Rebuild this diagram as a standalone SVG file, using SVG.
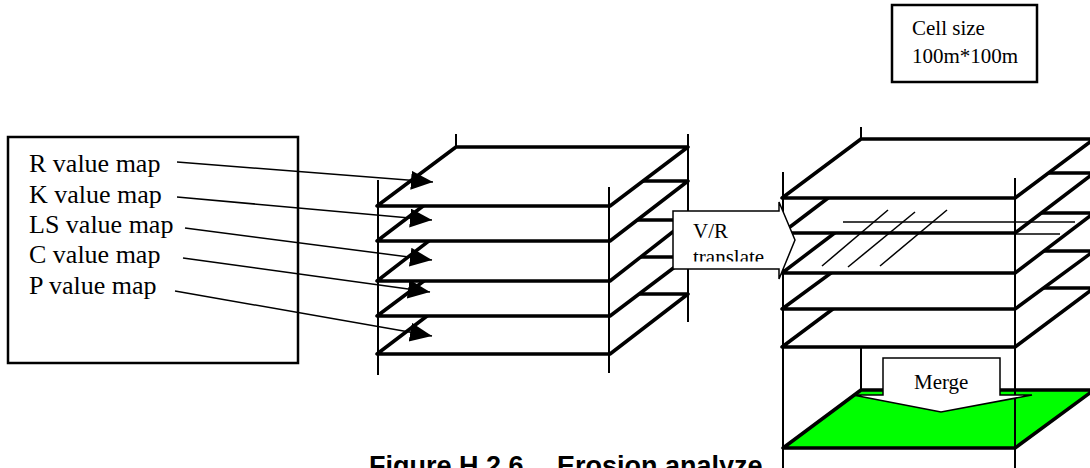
<svg xmlns="http://www.w3.org/2000/svg" width="1090" height="468" viewBox="0 0 1090 468">
<style>
.lab{font-family:"Liberation Serif","Times New Roman",serif;font-size:26px;fill:#000}
.sm{font-family:"Liberation Serif","Times New Roman",serif;font-size:21px;fill:#000}
.cap{font-family:"Liberation Sans",Arial,sans-serif;font-size:27px;font-weight:bold;fill:#000}
.layer{fill:#fff;stroke:#000;stroke-width:3.5;stroke-linejoin:round}
.green{fill:#00ff00;stroke:#000;stroke-width:3.5;stroke-linejoin:round}
.v{stroke:#000;stroke-width:2;fill:none}
.hatch{stroke:#000;stroke-width:1.5;fill:none}
.box{fill:#fff;stroke:#000;stroke-width:2.5}
.blk{fill:#fff;stroke:#000;stroke-width:1.5}
.conn{stroke:#000;stroke-width:1.5;fill:none;marker-end:url(#ah)}
</style>
<defs>
<marker id="ah" markerUnits="userSpaceOnUse" markerWidth="23" markerHeight="21" refX="22" refY="9.5" orient="auto">
<path d="M0,0 L22,9.5 L0,19 Z" fill="#000"/>
</marker>
<clipPath id="vrclip"><rect x="670" y="200" width="130" height="61.5"/></clipPath>
</defs>

<g id="cell-size">
<rect x="892" y="5" width="145" height="77" class="box" stroke-width="2"/>
<text class="sm" x="912" y="35">Cell size</text>
<text class="sm" x="912" y="63">100m*100m</text>
</g>

<g id="input-maps">
<rect x="8" y="137" width="290" height="226" class="box"/>
<text class="lab" x="29" y="172">R value map</text>
<text class="lab" x="29" y="203">K value map</text>
<text class="lab" x="29" y="233">LS value map</text>
<text class="lab" x="29" y="263">C value map</text>
<text class="lab" x="29" y="294">P value map</text>
</g>

<g id="left-stack">
<line class="v" x1="456" y1="134" x2="456" y2="300"/>
<line class="v" x1="688" y1="134" x2="688" y2="322"/>
<polygon class="layer" points="377,354 610,354 688,294 456,294"/>
<polygon class="layer" points="377,316 610,316 688,257 456,257"/>
<polygon class="layer" points="377,281 610,281 688,220 456,220"/>
<polygon class="layer" points="377,241 610,241 688,181 456,181"/>
<polygon class="layer" points="377,206 610,206 688,147 456,147"/>
<line class="v" x1="378" y1="180" x2="378" y2="375"/>
<line class="v" x1="609" y1="187" x2="609" y2="373"/>
</g>

<g id="right-stack">
<line class="v" x1="861" y1="127" x2="861" y2="390"/>
<polygon class="green" points="783,448 1015,448 1094,390 861,390"/>
<polygon class="layer" points="782,347 1015,347 1094,288 861,288"/>
<polygon class="layer" points="782,309 1015,309 1094,251 861,251"/>
<polygon class="layer" points="782,273 1015,273 1094,213 861,213"/>
<polygon class="layer" points="782,233 1015,233 1094,173 861,173"/>
<polygon class="layer" points="782,198 1015,198 1094,139 861,139"/>
<line class="v" x1="783" y1="172" x2="783" y2="468"/>
<line class="v" x1="1015" y1="178" x2="1015" y2="468"/>
<line class="hatch" x1="888" y1="210" x2="822" y2="266"/>
<line class="hatch" x1="915" y1="212" x2="848" y2="267"/>
<line class="hatch" x1="947" y1="210" x2="880" y2="266"/>
<line class="hatch" x1="843" y1="222" x2="1075" y2="222"/>
<line class="hatch" x1="1015" y1="234" x2="1060" y2="234"/>
</g>

<g id="vr-translate">
<polygon class="blk" points="673,211 779,211 779,202 795,240 779,279 779,269 673,269"/>
<text class="sm" x="693" y="238">V/R</text>
<text class="sm" x="693" y="264" clip-path="url(#vrclip)">translate</text>
</g>

<g id="merge">
<polygon class="blk" points="883,358 1000,358 1000,395 1032,395 941,412 853,395 883,395"/>
<text class="sm" x="914" y="389">Merge</text>
</g>

<g id="connectors">
<line class="conn" x1="177" y1="162" x2="433" y2="182"/>
<line class="conn" x1="177" y1="197" x2="432" y2="220"/>
<line class="conn" x1="185" y1="228" x2="432" y2="260"/>
<line class="conn" x1="183" y1="258" x2="430" y2="292"/>
<line class="conn" x1="175" y1="291" x2="432" y2="336"/>
</g>

<g id="caption">
<text class="cap" y="475"><tspan x="369">Figure H.2.6</tspan><tspan x="557">Erosion analyze</tspan></text>
</g>
</svg>
